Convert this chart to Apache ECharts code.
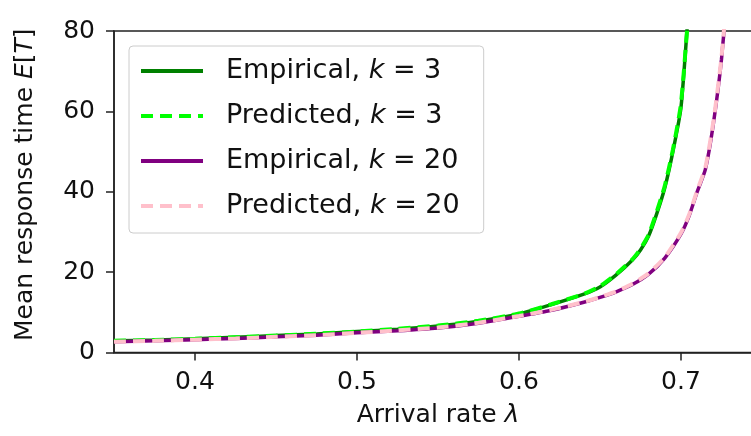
<!DOCTYPE html>
<html>
<head>
<meta charset="utf-8">
<script src="https://cdn.jsdelivr.net/npm/echarts@6/dist/echarts.min.js"></script>
<style>
html,body{margin:0;padding:0;background:#fff;}
#c{width:751px;height:436px;}
</style>
</head>
<body>
<div id="c"></div>
<script>
// ---- data ----
var lambdaK3 = [0.35,0.375,0.40,0.425,0.45,0.475,0.50,0.525,0.55,0.575,0.60,0.62,0.64,0.65,0.66,0.67,0.675,0.68,0.685,0.69,0.695,0.70,0.705];
var empiricalK3 = [2.9,3.1,3.4,3.8,4.2,4.6,5.2,5.8,6.6,7.8,9.6,11.9,14.5,16.3,19.3,23.0,25.5,29.0,34.5,41.0,50.0,61.0,88.0];
var predictedK3 = [2.9,3.1,3.4,3.8,4.2,4.7,5.2,5.9,6.7,7.9,9.7,12.0,14.6,16.5,19.5,23.2,25.8,29.3,35.0,41.5,50.5,62.0,87.0];
var lambdaK20 = [0.35,0.375,0.40,0.425,0.45,0.475,0.50,0.525,0.55,0.575,0.60,0.62,0.64,0.65,0.66,0.67,0.68,0.69,0.70,0.705,0.71,0.715,0.72,0.725,0.73];
var empiricalK20 = [2.7,2.9,3.2,3.5,3.9,4.3,4.9,5.4,6.1,7.3,9.0,10.5,12.5,13.7,15.1,16.9,19.5,23.5,29.5,34.0,40.0,45.5,57.0,73.0,96.0];
var predictedK20 = [2.7,2.9,3.2,3.5,3.9,4.3,4.9,5.5,6.2,7.4,9.1,10.6,12.6,13.8,15.2,17.1,19.7,23.7,29.8,34.3,40.3,46.0,57.5,73.5,97.0];
var xTicks = [0.4,0.5,0.6,0.7];
var yTicks = [0,20,40,60,80];
var seriesNames = ['Empirical, k = 3','Predicted, k = 3','Empirical, k = 20','Predicted, k = 20'];

function pairs(xs, ys){ return xs.map(function(x,i){ return [x, ys[i]]; }); }

var FONT = 'DejaVu Sans';
var TXT = '#111';
var chart = echarts.init(document.getElementById('c'), null, {renderer:'canvas'});

function legendFmt(name){
  var m = name.match(/^(.*), k = (\d+)$/);
  return '{n|' + m[1] + ', }{i|k}{n| = ' + m[2] + '}';
}

var option = {
  backgroundColor: '#fff',
  animation: false,
  grid: {left:114, top:31, width:648, height:321.5, outerBoundsMode:'none', containLabel:false,
    show:true, borderColor:'#222', borderWidth:1.5, backgroundColor:'transparent'},
  legend: {
    orient:'vertical', left:129, top:46,
    padding:[10,24,12,10],
    itemWidth:62, itemHeight:14, itemGap:15,
    backgroundColor:'rgba(255,255,255,0.8)', borderColor:'#cccccc', borderWidth:1, borderRadius:4,
    data: seriesNames,
    formatter: legendFmt,
    itemStyle:{opacity:0, borderWidth:0},
    lineStyle:{width:4},
    textStyle:{
      fontFamily:FONT, fontSize:27, color:TXT, lineHeight:30, padding:[0,0,0,18],
      rich:{
        n:{fontFamily:FONT, fontSize:27, color:TXT},
        i:{fontFamily:FONT, fontSize:27, color:TXT, fontStyle:'italic'}
      }
    }
  },
  xAxis: {
    type:'value', min:0.35, max:0.75,
    name:'Arrival rate {i|λ}', nameLocation:'middle', nameGap:50,
    nameTextStyle:{fontFamily:FONT, fontSize:25, color:TXT,
      rich:{i:{fontFamily:FONT, fontSize:25, color:TXT, fontStyle:'italic'}}},
    axisLine:{show:true, onZero:false, lineStyle:{color:'#222', width:1.5}},
    axisTick:{show:true, length:8, lineStyle:{color:'#222', width:1.5}, customValues:xTicks},
    axisLabel:{fontFamily:FONT, fontSize:25, color:TXT, margin:17, customValues:xTicks,
      formatter:function(v){ return v.toFixed(1); }},
    splitLine:{show:false}
  },
  yAxis: {
    type:'value', min:0, max:80, interval:20,
    name:'Mean response time {i|E}[{i|T}]', nameLocation:'middle', nameGap:76, nameRotate:90,
    nameTextStyle:{fontFamily:FONT, fontSize:25, color:TXT, padding:[0,0,0,14],
      rich:{i:{fontFamily:FONT, fontSize:25, color:TXT, fontStyle:'italic'}}},
    axisLine:{show:true, onZero:false, lineStyle:{color:'#222', width:1.5}},
    axisTick:{show:true, length:8, lineStyle:{color:'#222', width:1.5}},
    axisLabel:{fontFamily:FONT, fontSize:25, color:TXT, margin:19,
      formatter:function(v){ return yTicks.indexOf(v) >= 0 ? String(v) : ''; }},
    splitLine:{show:false}
  },
  series: [
    {name:seriesNames[0], type:'line', data:pairs(lambdaK3, empiricalK3), symbol:'none', smooth:0.2, clip:true, z:2,
      lineStyle:{color:'#008000', width:3.5, type:'solid'}, itemStyle:{color:'#008000'}},
    {name:seriesNames[1], type:'line', data:pairs(lambdaK3, predictedK3), symbol:'none', smooth:0.2, clip:true, z:3,
      lineStyle:{color:'#00ff00', width:4, type:[12,7]}, itemStyle:{color:'#00ff00'}},
    {name:seriesNames[2], type:'line', data:pairs(lambdaK20, empiricalK20), symbol:'none', smooth:0.2, clip:true, z:4,
      lineStyle:{color:'#800080', width:3.5, type:'solid'}, itemStyle:{color:'#800080'}},
    {name:seriesNames[3], type:'line', data:pairs(lambdaK20, predictedK20), symbol:'none', smooth:0.2, clip:true, z:5,
      lineStyle:{color:'#ffc0cb', width:4, type:[12,7]}, itemStyle:{color:'#ffc0cb'}}
  ]
};
chart.setOption(option);
</script>
</body>
</html>
